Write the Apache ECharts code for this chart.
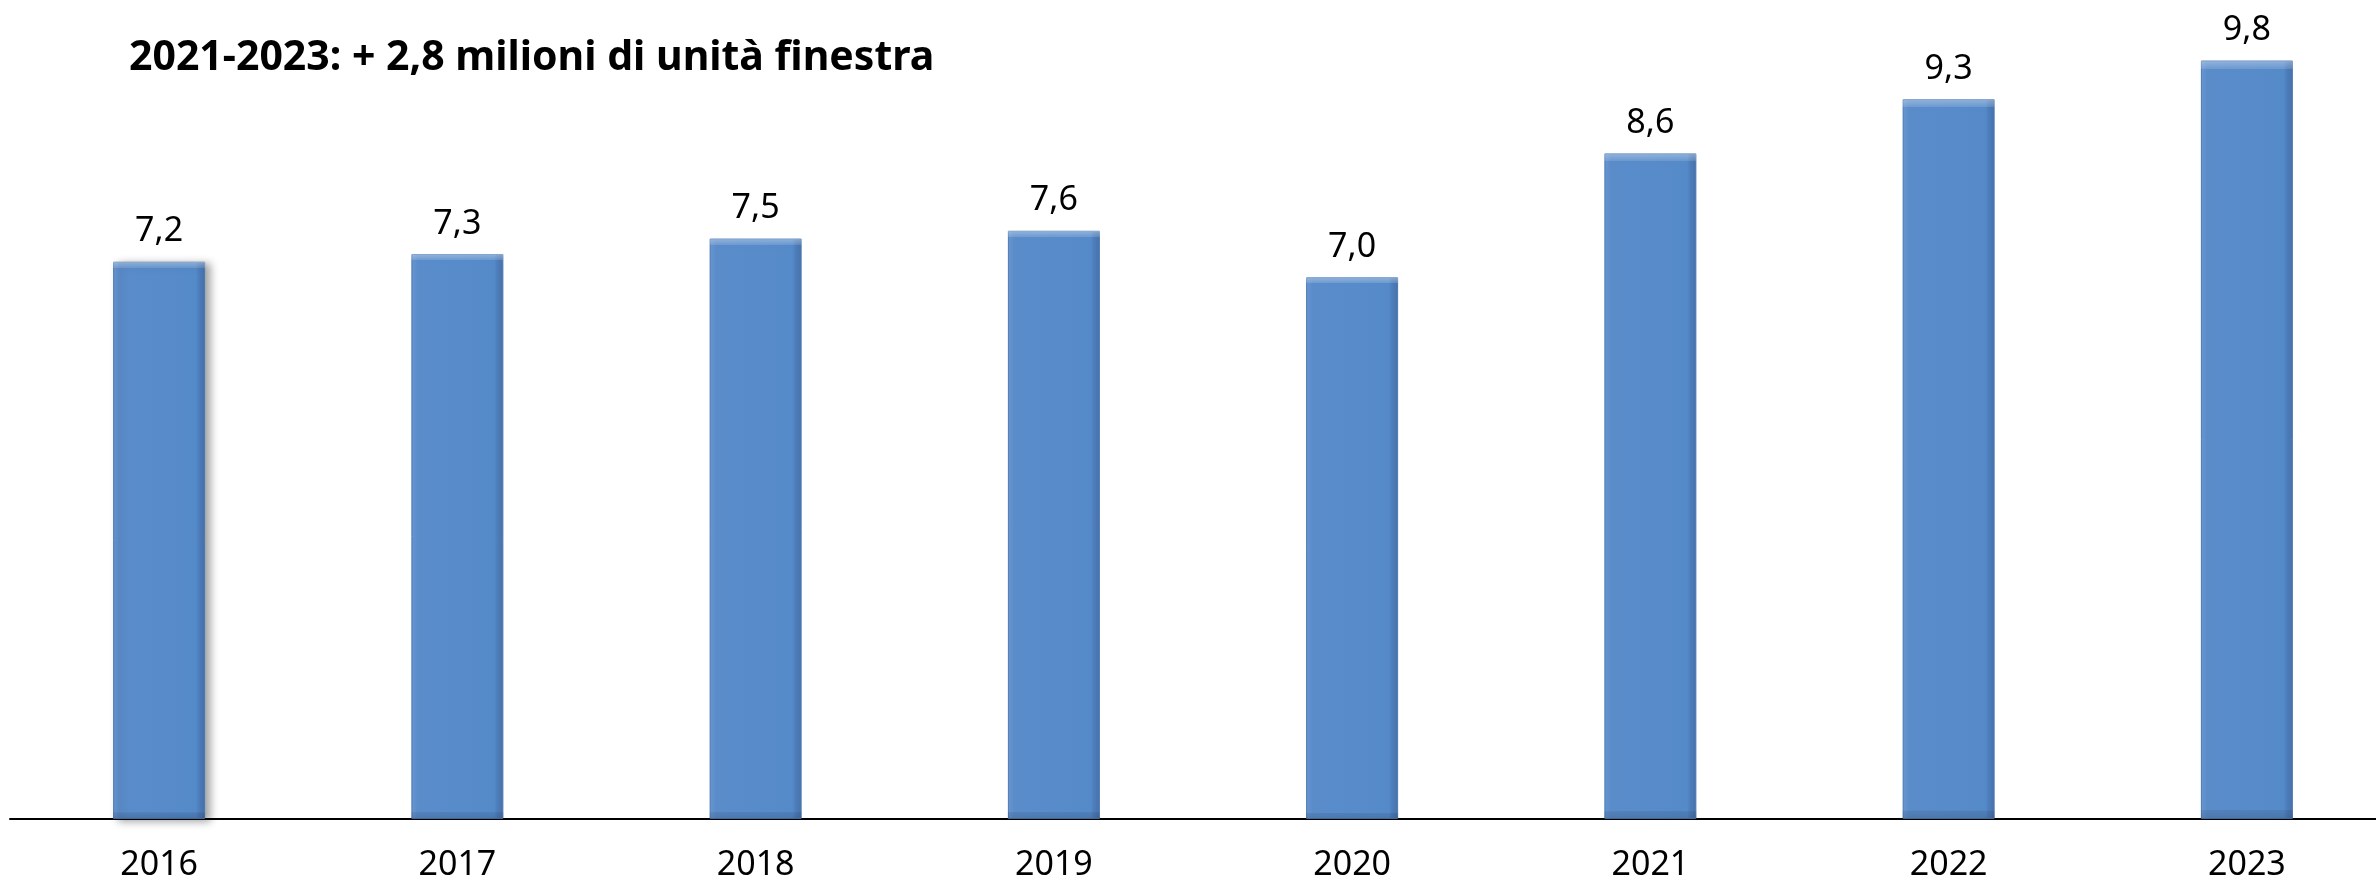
<!DOCTYPE html>
<html>
<head>
<meta charset="utf-8">
<script src="https://cdn.jsdelivr.net/npm/echarts@6/dist/echarts.min.js"></script>
<style>
  html, body { margin: 0; padding: 0; background: #fff; overflow: hidden; }
  /* il grafico originale continua oltre il bordo destro */
  #main { width: 2396px; height: 882px; }
</style>
</head>
<body>
<div id="main"></div>
<script>
var anni = ['2016', '2017', '2018', '2019', '2020', '2021', '2022', '2023'];
var milioni = [7.2, 7.3, 7.5, 7.6, 7.0, 8.6, 9.3, 9.8];
var titolo = '2021-2023: + 2,8 milioni di unità finestra';

var myChart = echarts.init(document.getElementById('main'));

// corpo della barra: bordi laterali leggermente sfumati
var fill = new echarts.graphic.LinearGradient(0, 0, 1, 0, [
    { offset: 0, color: '#6996d0' },
    { offset: 0.07, color: '#5a8cca' },
    { offset: 0.9, color: '#558ac9' },
    { offset: 0.93, color: '#4e7ebd' },
    { offset: 1, color: '#4771a9' }
]);

// effetto bisello sopra e sotto
var bevel = new echarts.graphic.LinearGradient(0, 0, 0, 1, [
    { offset: 0, color: 'rgba(255,255,255,0.35)' },
    { offset: 0.011, color: 'rgba(255,255,255,0.12)' },
    { offset: 0.0115, color: 'rgba(255,255,255,0)' },
    { offset: 0.988, color: 'rgba(0,0,0,0)' },
    { offset: 0.9885, color: 'rgba(0,0,0,0.08)' },
    { offset: 1, color: 'rgba(0,0,0,0.15)' }
]);

var option = {
    backgroundColor: '#ffffff',
    animation: false,
    title: {
        text: titolo,
        left: 124,
        top: 33,
        textStyle: {
            fontFamily: 'Noto Sans',
            fontWeight: 'bold',
            fontSize: 41,
            color: '#000'
        }
    },
    grid: {
        left: 10,
        right: 0,
        top: 45,
        bottom: 62
    },
    xAxis: {
        type: 'category',
        data: anni,
        axisTick: { show: false },
        axisLine: { lineStyle: { color: '#000', width: 2 } },
        axisLabel: {
            margin: 29,
            fontFamily: 'Noto Sans',
            fontSize: 34,
            color: '#000'
        }
    },
    yAxis: {
        type: 'value',
        min: 0,
        max: 10,
        show: false,
        splitLine: { show: false }
    },
    series: [{
        name: 'Unità finestra',
        type: 'bar',
        barWidth: 92,
        z: 2,
        data: milioni.map(function (v, i) {
            var item = { value: v };
            if (i === 0) {
                item.itemStyle = {
                    shadowColor: 'rgba(0,0,0,0.35)',
                    shadowBlur: 8,
                    shadowOffsetX: 5,
                    shadowOffsetY: 2
                };
            }
            return item;
        }),
        itemStyle: {
            color: fill,
            borderColor: '#4a78b2',
            borderWidth: 1
        },
        label: {
            show: true,
            position: 'top',
            distance: 13,
            fontFamily: 'Noto Sans',
            fontSize: 34,
            color: '#000',
            formatter: function (p) {
                return p.value.toFixed(1).replace('.', ',');
            }
        }
    }, {
        name: 'bisello',
        type: 'bar',
        barWidth: 92,
        barGap: '-100%',
        z: 3,
        silent: true,
        data: milioni,
        itemStyle: { color: bevel }
    }]
};

myChart.setOption(option);
</script>
</body>
</html>
